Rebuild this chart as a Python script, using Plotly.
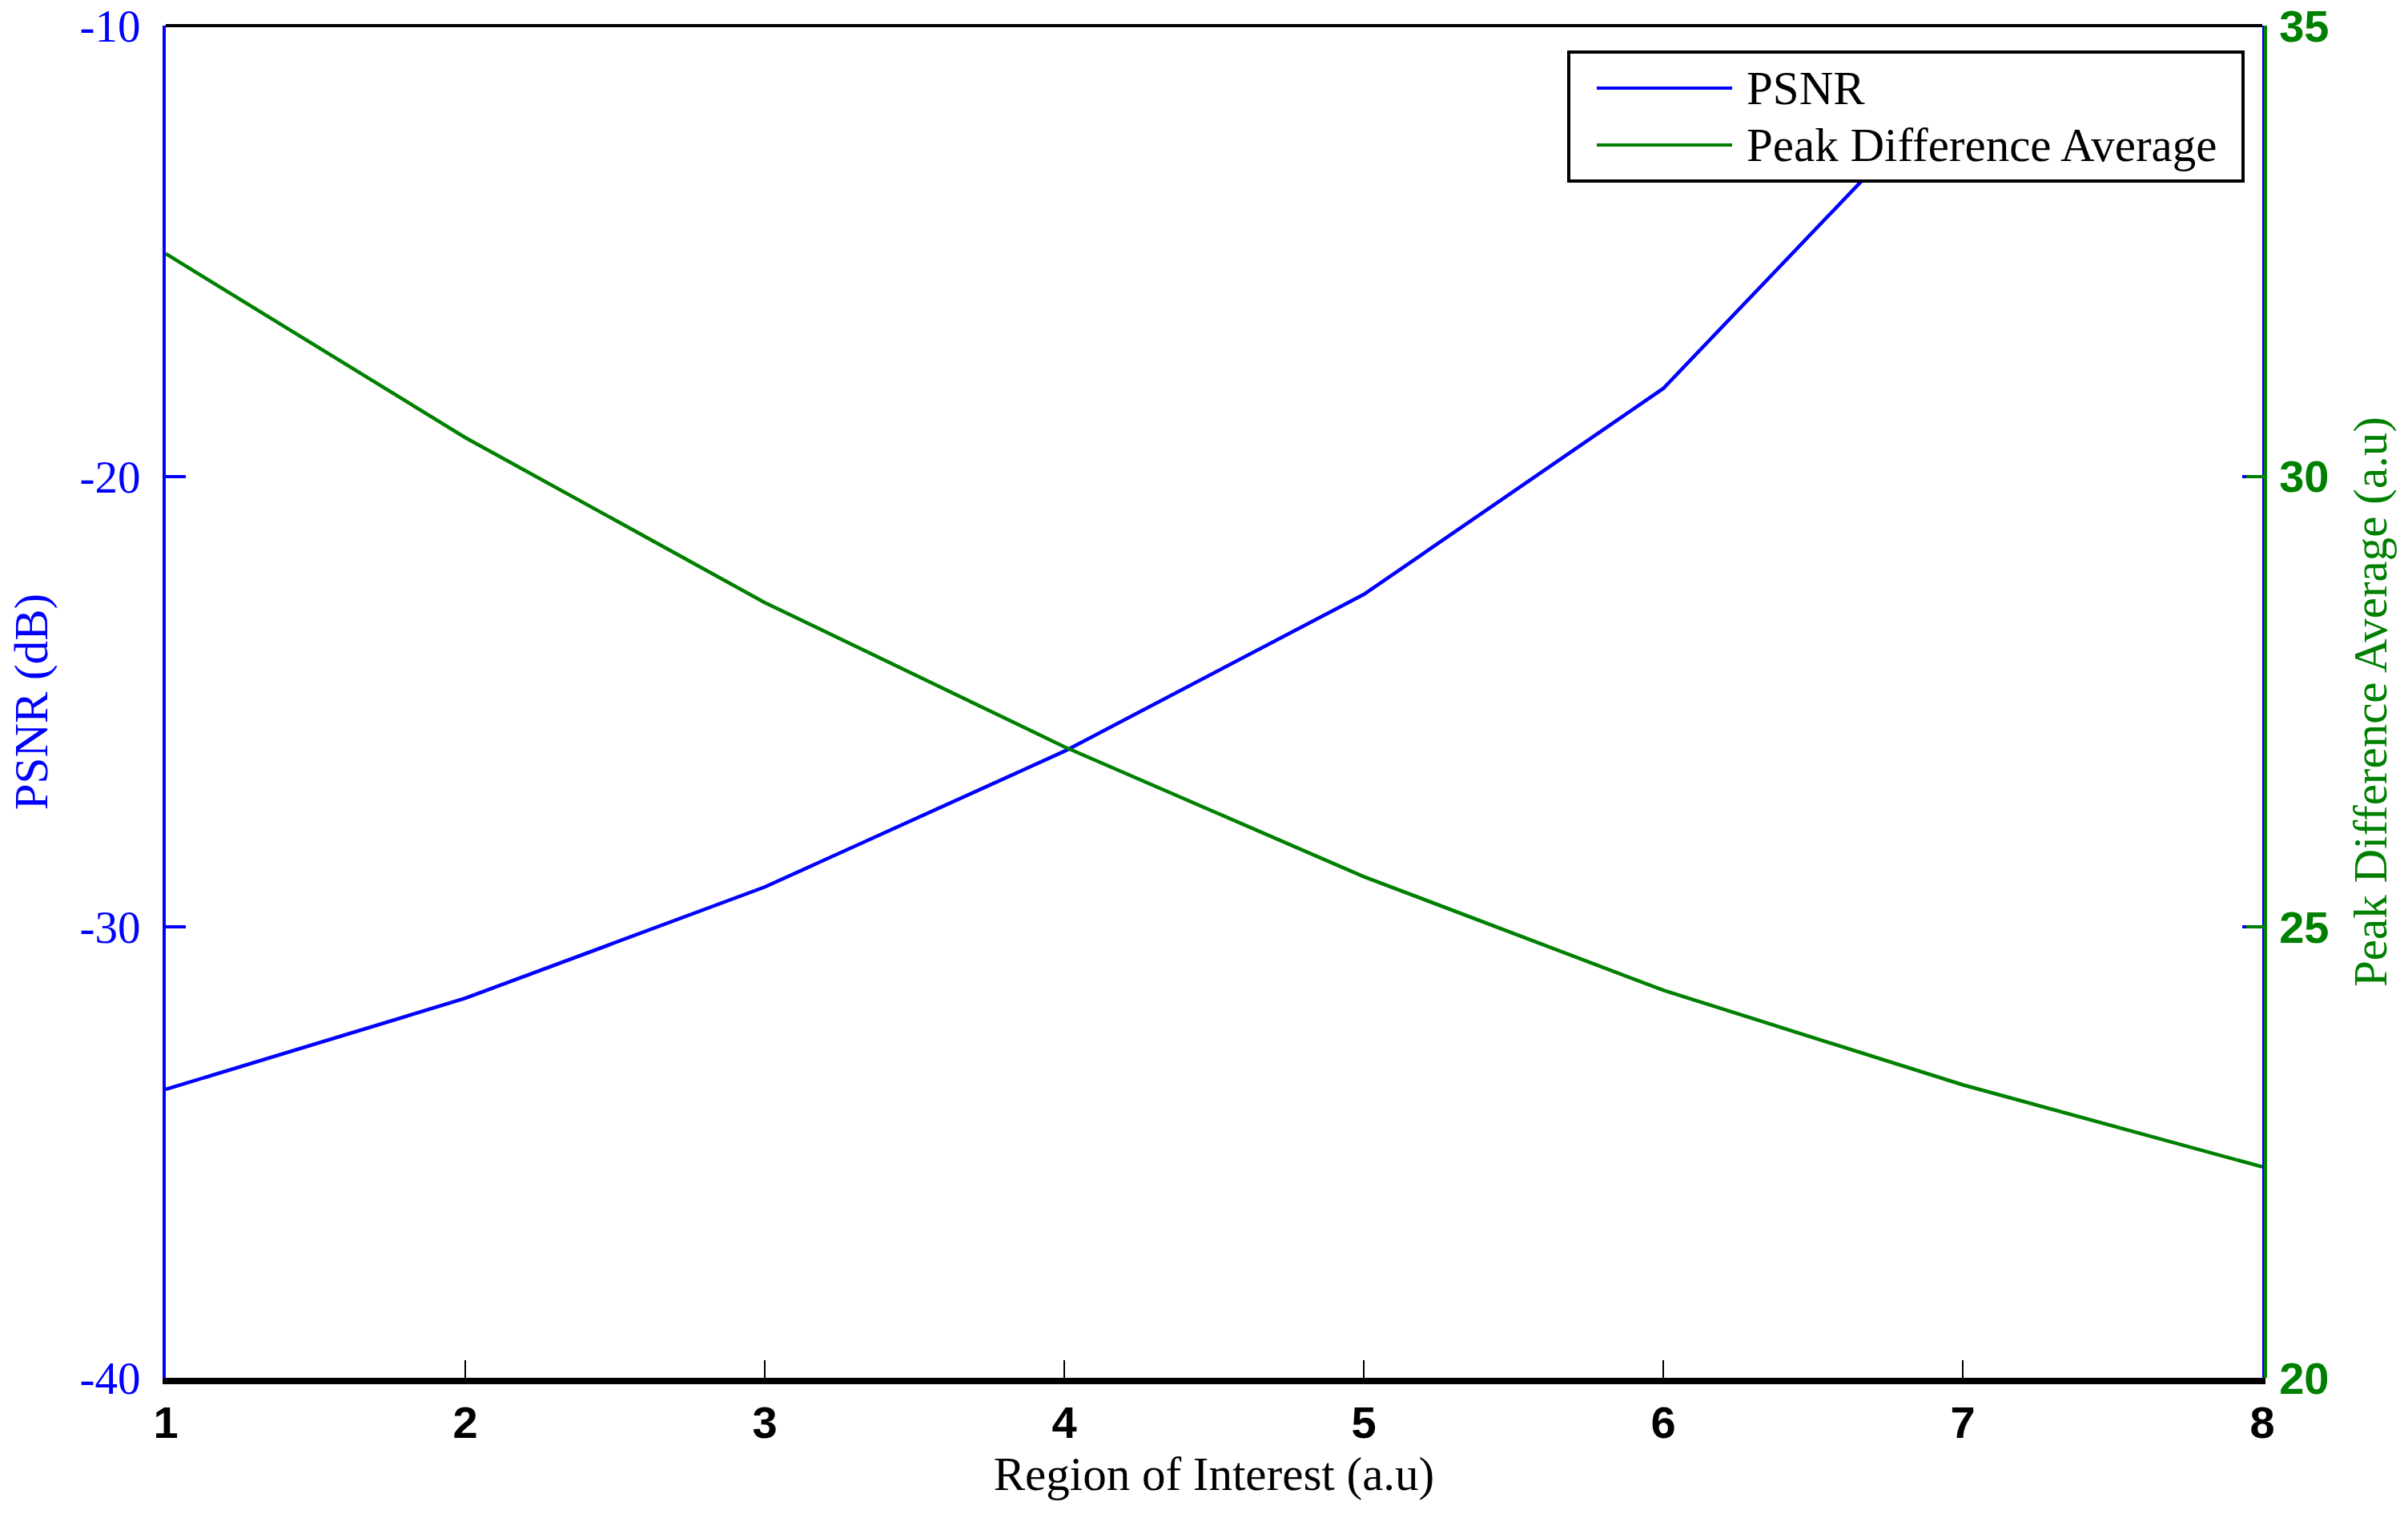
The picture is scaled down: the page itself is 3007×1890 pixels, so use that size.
import plotly.graph_objects as go

# ---------------- data ----------------
region_psnr = [1, 2, 3, 4, 5, 6, 7]
psnr_db = [-33.6, -31.58, -29.11, -26.1, -22.62, -18.05, -11.1]

region_pda = [1, 2, 3, 4, 5, 6, 7, 8]
peak_diff_avg = [32.47, 30.43, 28.60, 27.0, 25.56, 24.30, 23.25, 22.34]

x_ticks = [1, 2, 3, 4, 5, 6, 7, 8]
y1_ticks = [-40, -30, -20, -10]
y1_tick_labels = ["-40", "-30", "-20", "-10"]
y2_ticks = [20, 25, 30, 35]

series_names = ["PSNR", "Peak Difference Average"]
x_title = "Region of Interest (a.u)"
y1_title = "PSNR (dB)"
y2_title = "Peak Difference Average (a.u)"

# ---------------- style ----------------
BLUE = "#0000FF"
GREEN = "#008000"
SERIF = "Liberation Serif, Times New Roman, serif"
SANS = "Liberation Sans, Arial, sans-serif"

W, H = 3007, 1890
ML, MR, MT, MB = 207, 178, 32, 170
PW, PH = W - ML - MR, H - MT - MB


def px_x(p):
    return (p - ML) / PW


def px_y(p):
    return (H - MB - p) / PH


fig = go.Figure()
fig.add_trace(go.Scatter(x=region_psnr, y=psnr_db, mode="lines", name=series_names[0],
                         line=dict(color=BLUE, width=4.5), yaxis="y", showlegend=False))
fig.add_trace(go.Scatter(x=region_pda, y=peak_diff_avg, mode="lines", name=series_names[1],
                         line=dict(color=GREEN, width=4.5), yaxis="y2", showlegend=False))

x_end = px_x(2825)

fig.update_layout(
    template="none",
    width=W, height=H,
    margin=dict(l=ML, r=MR, t=MT, b=MB, pad=0),
    paper_bgcolor="white", plot_bgcolor="white",
    showlegend=False,
    xaxis=dict(
        domain=[0, x_end], range=[1, 8], tickvals=x_ticks,
        showgrid=False, zeroline=False,
        showline=True, linecolor="black", linewidth=8,
        ticks="inside", ticklen=22, tickwidth=2, tickcolor="black",
        tickfont=dict(family=SANS, size=56, color="black", weight="bold"),
        ticklabelstandoff=0,
        title=dict(text=x_title, font=dict(family=SERIF, size=59, color="black"), standoff=4),
        automargin=False,
    ),
    yaxis=dict(
        range=[-40, -10], tickvals=y1_ticks, ticktext=y1_tick_labels,
        showgrid=False, zeroline=False,
        showline=True, linecolor=BLUE, linewidth=4, mirror="ticks",
        ticks="inside", ticklen=25, tickwidth=4, tickcolor=BLUE,
        tickfont=dict(family=SERIF, size=57, color=BLUE),
        ticklabelstandoff=16,
        title=dict(text=y1_title, font=dict(family=SERIF, size=59, color=BLUE), standoff=22),
        automargin=False,
    ),
    yaxis2=dict(
        range=[20, 35], tickvals=y2_ticks, overlaying="y", side="right",
        anchor="free", position=1,
        showgrid=False, zeroline=False,
        showline=True, linecolor=GREEN, linewidth=4,
        ticks="inside", ticklen=22, tickwidth=4, tickcolor=GREEN,
        tickfont=dict(family=SANS, size=56, color=GREEN, weight="bold"),
        ticklabelstandoff=4,
        title=dict(text=y2_title, font=dict(family=SERIF, size=59, color=GREEN), standoff=30),
        automargin=False,
    ),
)

# top border of the axes box
fig.add_shape(type="line", xref="paper", yref="paper", x0=0, x1=x_end, y0=1, y1=1,
              line=dict(color="black", width=4), layer="above")

# legend box (drawn manually to reproduce the long line samples)
fig.add_shape(type="rect", xref="paper", yref="paper",
              x0=px_x(1959), x1=px_x(2801), y0=px_y(226), y1=px_y(65),
              line=dict(color="black", width=4), fillcolor="white", layer="above")
legend_rows = [(series_names[0], BLUE, 110), (series_names[1], GREEN, 181)]
for name, col, ypx in legend_rows:
    fig.add_shape(type="line", xref="paper", yref="paper",
                  x0=px_x(1994), x1=px_x(2163), y0=px_y(ypx), y1=px_y(ypx),
                  line=dict(color=col, width=4), layer="above")
    fig.add_annotation(text=name, xref="paper", yref="paper", x=px_x(2179), y=px_y(ypx),
                       xanchor="left", yanchor="middle", showarrow=False,
                       font=dict(family=SERIF, size=59, color="black"))

fig.write_html("out.html",
               config={"displayModeBar": False},
               post_script="document.body.style.margin='0';document.body.style.padding='0';")
